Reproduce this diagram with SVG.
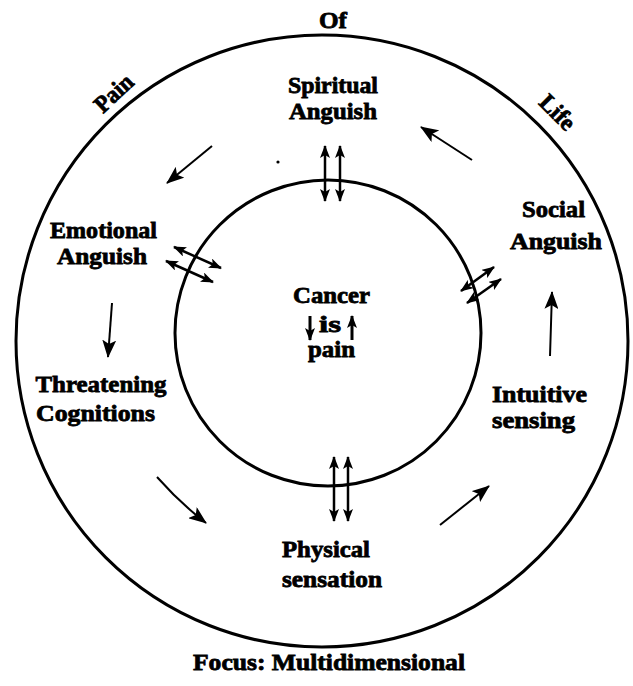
<svg xmlns="http://www.w3.org/2000/svg" width="633" height="686" viewBox="0 0 633 686">
<style>
.t{font-family:"Liberation Serif","Times New Roman",serif;font-weight:bold;font-size:24px;fill:#000;stroke:#000;stroke-width:0.8;text-anchor:middle}
.ring{fill:none;stroke:#000;stroke-width:3}
.c{fill:none;stroke:#000;stroke-width:2}
.d{fill:none;stroke:#000;stroke-width:2.5}
.m{fill:none;stroke:#000;stroke-width:3}
</style>
<defs>
<marker id="ah" markerUnits="userSpaceOnUse" markerWidth="18" markerHeight="14" viewBox="0 0 18 14" refX="17" refY="7" orient="auto">
<path d="M0,0 L18,7 L0,14 L4,7 z" fill="#000"/>
</marker>
<marker id="dh" markerUnits="userSpaceOnUse" markerWidth="13" markerHeight="10" viewBox="0 0 13 10" refX="12" refY="5" orient="auto-start-reverse">
<path d="M0,0 L13,5 L0,10 L3,5 z" fill="#000"/>
</marker>
</defs>
<rect width="633" height="686" fill="#fff"/>
<g id="rings">
<circle id="outer-ring" class="ring" cx="322" cy="341" r="306"/>
<circle id="inner-ring" class="ring" cx="328" cy="333" r="153"/>
</g>
<g id="ring-labels">
<text class="t" x="333" y="28" textLength="28" lengthAdjust="spacingAndGlyphs">Of</text>
<text class="t" x="0" y="0" transform="translate(119,99) rotate(-43)" textLength="44" lengthAdjust="spacingAndGlyphs">Pain</text>
<text class="t" x="0" y="0" transform="translate(552,118) rotate(45)" textLength="40" lengthAdjust="spacingAndGlyphs">Life</text>
</g>
<g id="spiritual">
<text class="t" x="333" y="93" textLength="90" lengthAdjust="spacingAndGlyphs">Spiritual</text>
<text class="t" x="333" y="119" textLength="88" lengthAdjust="spacingAndGlyphs">Anguish</text>
</g>
<g id="emotional">
<text class="t" x="103.5" y="238" textLength="107" lengthAdjust="spacingAndGlyphs">Emotional</text>
<text class="t" x="102" y="264" textLength="90" lengthAdjust="spacingAndGlyphs">Anguish</text>
</g>
<g id="threatening">
<text class="t" x="101" y="392" textLength="131" lengthAdjust="spacingAndGlyphs">Threatening</text>
<text class="t" x="95.5" y="421" textLength="119" lengthAdjust="spacingAndGlyphs">Cognitions</text>
</g>
<g id="physical">
<text class="t" x="326" y="557" textLength="88" lengthAdjust="spacingAndGlyphs">Physical</text>
<text class="t" x="332" y="587" textLength="100" lengthAdjust="spacingAndGlyphs">sensation</text>
</g>
<g id="intuitive">
<text class="t" x="539.5" y="402" textLength="95" lengthAdjust="spacingAndGlyphs">Intuitive</text>
<text class="t" x="533.5" y="428" textLength="83" lengthAdjust="spacingAndGlyphs">sensing</text>
</g>
<g id="social">
<text class="t" x="553.5" y="217" textLength="63" lengthAdjust="spacingAndGlyphs">Social</text>
<text class="t" x="556" y="249" textLength="92" lengthAdjust="spacingAndGlyphs">Anguish</text>
</g>
<g id="cancer">
<text class="t" x="331.5" y="303" textLength="77" lengthAdjust="spacingAndGlyphs">Cancer</text>
<text class="t" x="330" y="332" textLength="22" lengthAdjust="spacingAndGlyphs">is</text>
<text class="t" x="331.5" y="357" textLength="47" lengthAdjust="spacingAndGlyphs">pain</text>
<line class="m" x1="310" y1="316" x2="310" y2="340" marker-end="url(#dh)"/>
<line class="m" x1="352" y1="340" x2="352" y2="316" marker-end="url(#dh)"/>
</g>
<g id="caption">
<text class="t" x="329" y="670" textLength="272" lengthAdjust="spacingAndGlyphs">Focus: Multidimensional</text>
</g>
<g id="connectors">
<line class="c" x1="212" y1="146" x2="167" y2="183" marker-end="url(#ah)"/>
<line class="c" x1="112" y1="303" x2="108" y2="357" marker-end="url(#ah)"/>
<path class="c" d="M157,477 Q180,503 206,523" marker-end="url(#ah)"/>
<line class="c" x1="440" y1="525" x2="489" y2="486" marker-end="url(#ah)"/>
<line class="c" x1="550" y1="356" x2="552" y2="292" marker-end="url(#ah)"/>
<line class="c" x1="472" y1="160" x2="421" y2="127" marker-end="url(#ah)"/>
<line class="d" x1="325" y1="146" x2="325" y2="201" marker-start="url(#dh)" marker-end="url(#dh)"/>
<line class="d" x1="340" y1="146" x2="340" y2="201" marker-start="url(#dh)" marker-end="url(#dh)"/>
<line class="d" x1="334" y1="457" x2="334" y2="521" marker-start="url(#dh)" marker-end="url(#dh)"/>
<line class="d" x1="348" y1="457" x2="348" y2="521" marker-start="url(#dh)" marker-end="url(#dh)"/>
<line class="d" x1="174" y1="247" x2="221" y2="268" marker-start="url(#dh)" marker-end="url(#dh)"/>
<line class="d" x1="166" y1="261" x2="213" y2="282" marker-start="url(#dh)" marker-end="url(#dh)"/>
<line class="d" x1="461" y1="291" x2="494" y2="267" marker-start="url(#dh)" marker-end="url(#dh)"/>
<line class="d" x1="467" y1="303" x2="501" y2="279" marker-start="url(#dh)" marker-end="url(#dh)"/>
<circle cx="278" cy="162" r="1.6" fill="#000"/>
</g>
</svg>
